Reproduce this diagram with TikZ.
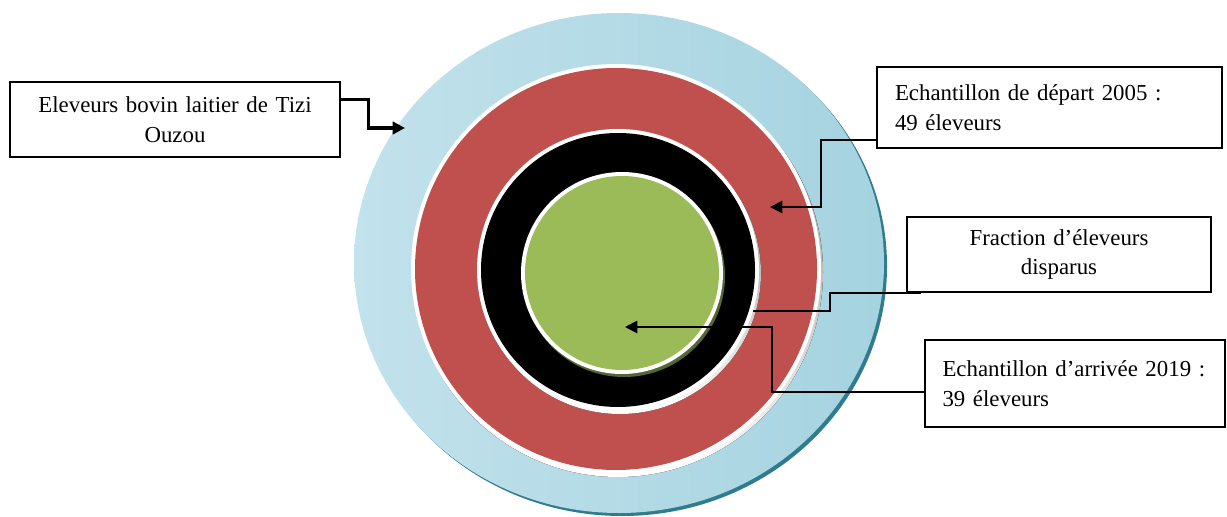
\documentclass[tikz,border=0pt]{standalone}
\usepackage{fontspec}
\setmainfont{Liberation Serif}
\usetikzlibrary{calc,arrows.meta,positioning}
\definecolor{skyedge}{HTML}{C2E2EC}
\definecolor{skymid}{HTML}{D6EDF4}
\definecolor{skydark}{HTML}{A5D3E0}
\definecolor{rim}{HTML}{2E7C8E}
\definecolor{brick}{HTML}{C0504D}
\definecolor{leaf}{HTML}{9BBB59}
\definecolor{shade}{HTML}{B0A2A4}
% disc with white border and a soft shadow: x, y, radius, colour, shadow colour
\newcommand{\ringdisc}[5]{\fill[#5] (#1+2,#2+3) circle (#3+4);\fill[white] (#1,#2) circle (#3+4);\fill[#4] (#1,#2) circle (#3);}
\tikzset{
  labelbox/.style={draw,line width=0.8pt,fill=white,font=\fontsize{13pt}{17pt}\selectfont},
  leader/.style={line width=1.1pt,-{Triangle[length=7pt,width=7pt]}}
}

\begin{document}
\begin{tikzpicture}[x=0.02cm,y=-0.02cm]
\useasboundingbox (0,0) rectangle (1227,517);
% target rings
\fill[rim] (622,266) ellipse [x radius=265, y radius=250];
\shade[left color=skyedge,middle color=skymid,right color=skydark] (619,263) ellipse [x radius=265, y radius=250];
\ringdisc{616}{269}{201}{brick}{shade}
\ringdisc{618}{270}{137}{black}{shade}
\ringdisc{622}{273}{97}{leaf}{black!45!leaf}

\node[labelbox,minimum width=6.6cm,minimum height=1.5cm,text width=6.2cm,align=center] (ouzou) at (175,119.5) {Eleveurs bovin laitier de Tizi\\Ouzou};
\node[labelbox,minimum width=6.9cm,minimum height=1.62cm,text width=6.18cm,inner xsep=0.36cm,align=left] (depart) at (1049.5,107.5) {Echantillon de départ 2005 :\\49 éleveurs};
\node[labelbox,minimum width=6.08cm,minimum height=1.5cm,text width=5.68cm,align=center] (disparus) at (1059,254.5) {Fraction d’éleveurs\\disparus};
\node[labelbox,minimum width=6cm,minimum height=1.74cm,text width=5.3cm,inner xsep=0.35cm,align=left] (arrivee) at (1075,383.5) {Echantillon d’arrivée 2019 :\\39 éleveurs};

\coordinate (ptblue) at (405,128);
\coordinate (ptred) at (770,207);
\coordinate (ptblack) at (753,311);
\coordinate (ptgreen) at (625,327);

\draw[leader,line width=1.8pt] ($(ouzou.north east)+(0,18)$) -- ++(28,0) |- (ptblue);
\draw[leader] ($(depart.south west)+(0,-9)$) -- ++(-55,0) |- (ptred);
\draw[line width=1.1pt] ($(disparus.south west)+(15,0)$) -- ++(-91,0) |- (ptblack);
\draw[leader] ($(arrivee.west)+(0,8.5)$) -- ++(-152,0) |- (ptgreen);
\end{tikzpicture}
\end{document}
